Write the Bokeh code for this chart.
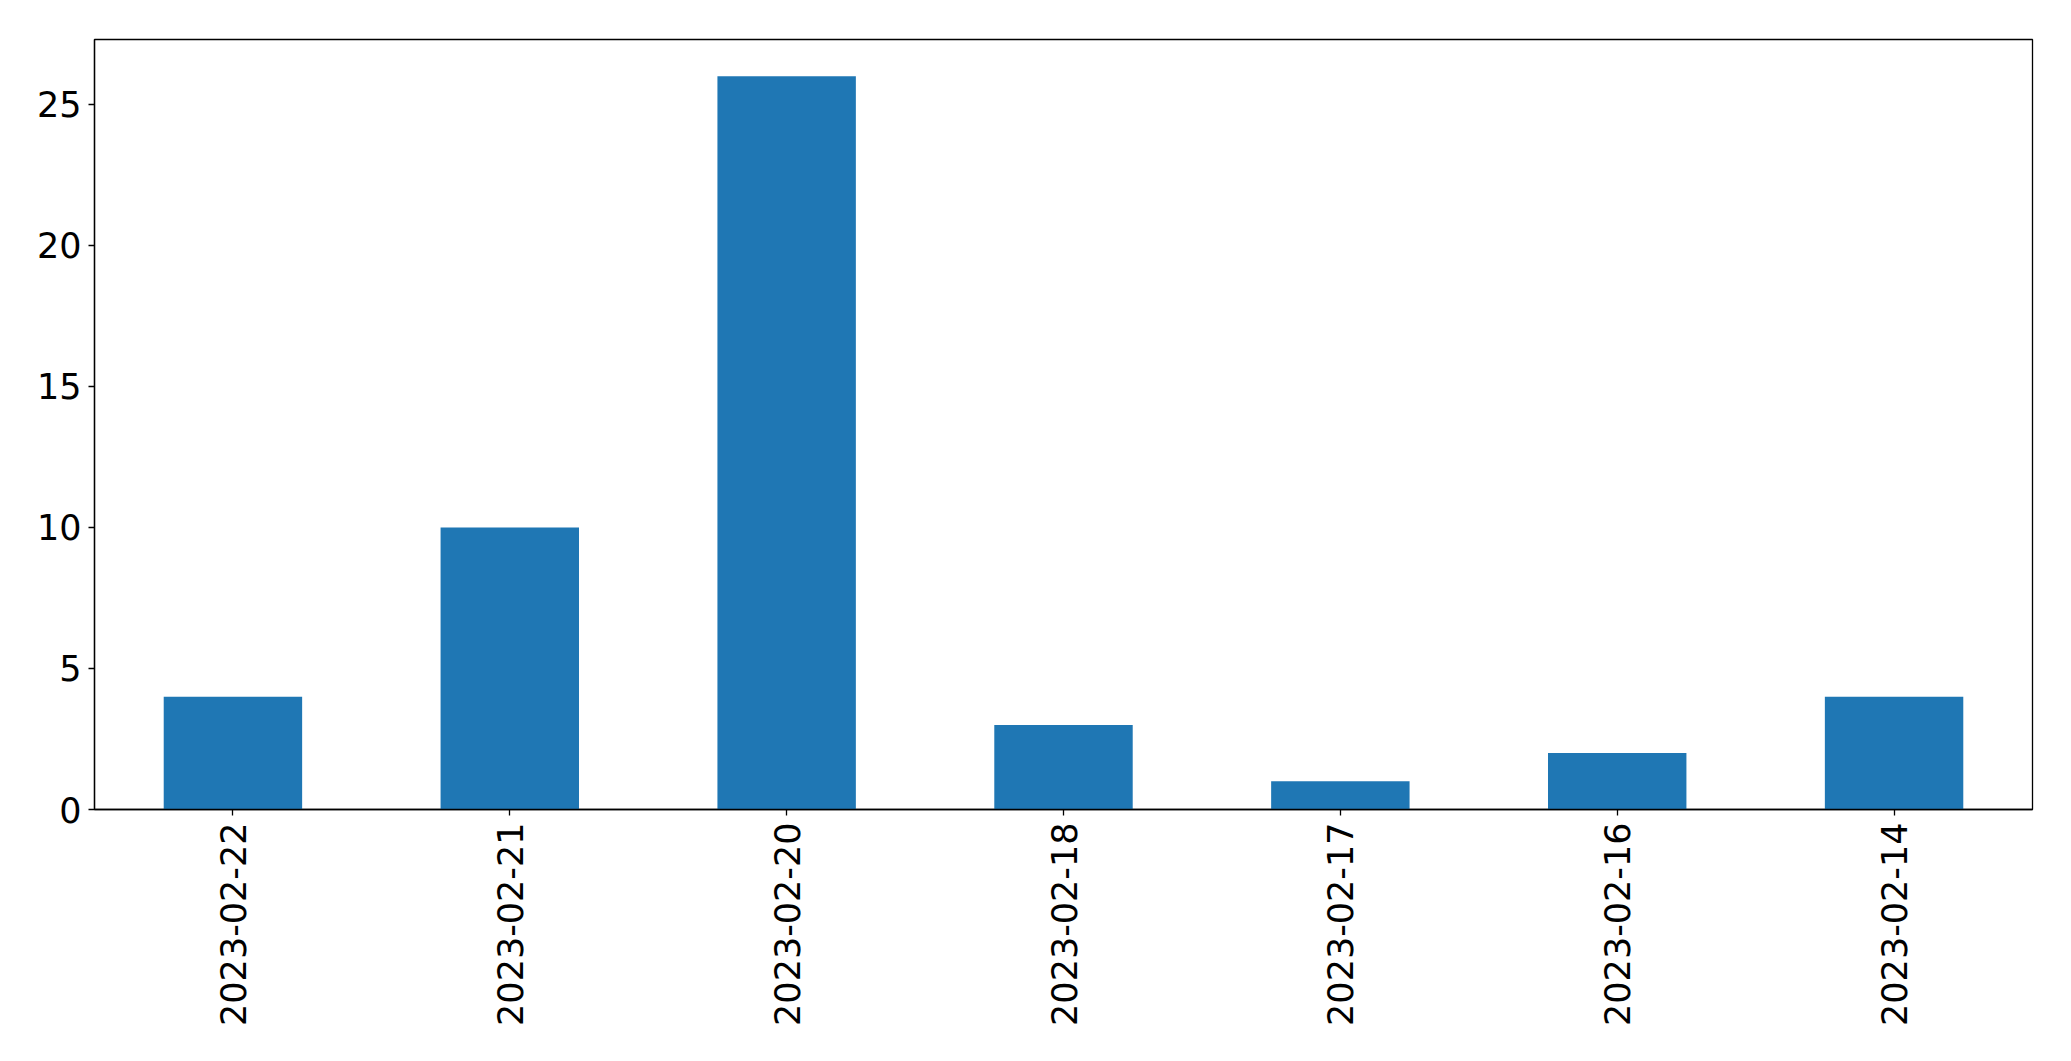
import math
from bokeh.plotting import figure
from bokeh.models import FixedTicker, ColumnDataSource
from bokeh.embed import file_html
from bokeh.resources import INLINE

dates = ["2023-02-22", "2023-02-21", "2023-02-20", "2023-02-18", "2023-02-17", "2023-02-16", "2023-02-14"]
counts = [4, 10, 26, 3, 1, 2, 4]
y_ticks = [0, 5, 10, 15, 20, 25]

src = ColumnDataSource(dict(x=dates, top=counts))

p = figure(x_range=dates, y_range=(0, 27.3), width=2063, height=1053,
           output_backend="svg", toolbar_location=None,
           min_border_left=94, min_border_top=39, min_border_right=31, min_border_bottom=244)
p.vbar(x="x", top="top", width=0.5, source=src, color="#1f77b4", line_color=None)

p.xgrid.visible = False
p.ygrid.visible = False
p.outline_line_color = "black"
p.outline_line_width = 1.3
p.outline_line_alpha = 1.0

for ax in (p.xaxis, p.yaxis):
    ax.axis_line_color = "black"
    ax.axis_line_width = 1.3
    ax.major_tick_in = 0
    ax.major_tick_out = 6
    ax.major_tick_line_color = "black"
    ax.major_tick_line_width = 1.3
    ax.minor_tick_line_color = None
    ax.major_label_text_font = "DejaVu Sans"
    ax.major_label_text_font_size = "35px"
    ax.major_label_text_color = "black"
    ax.major_label_standoff = 7

p.yaxis.ticker = FixedTicker(ticks=y_ticks)
p.xaxis.major_label_orientation = math.pi / 2

open("out.html", "w").write(file_html(p, INLINE))
